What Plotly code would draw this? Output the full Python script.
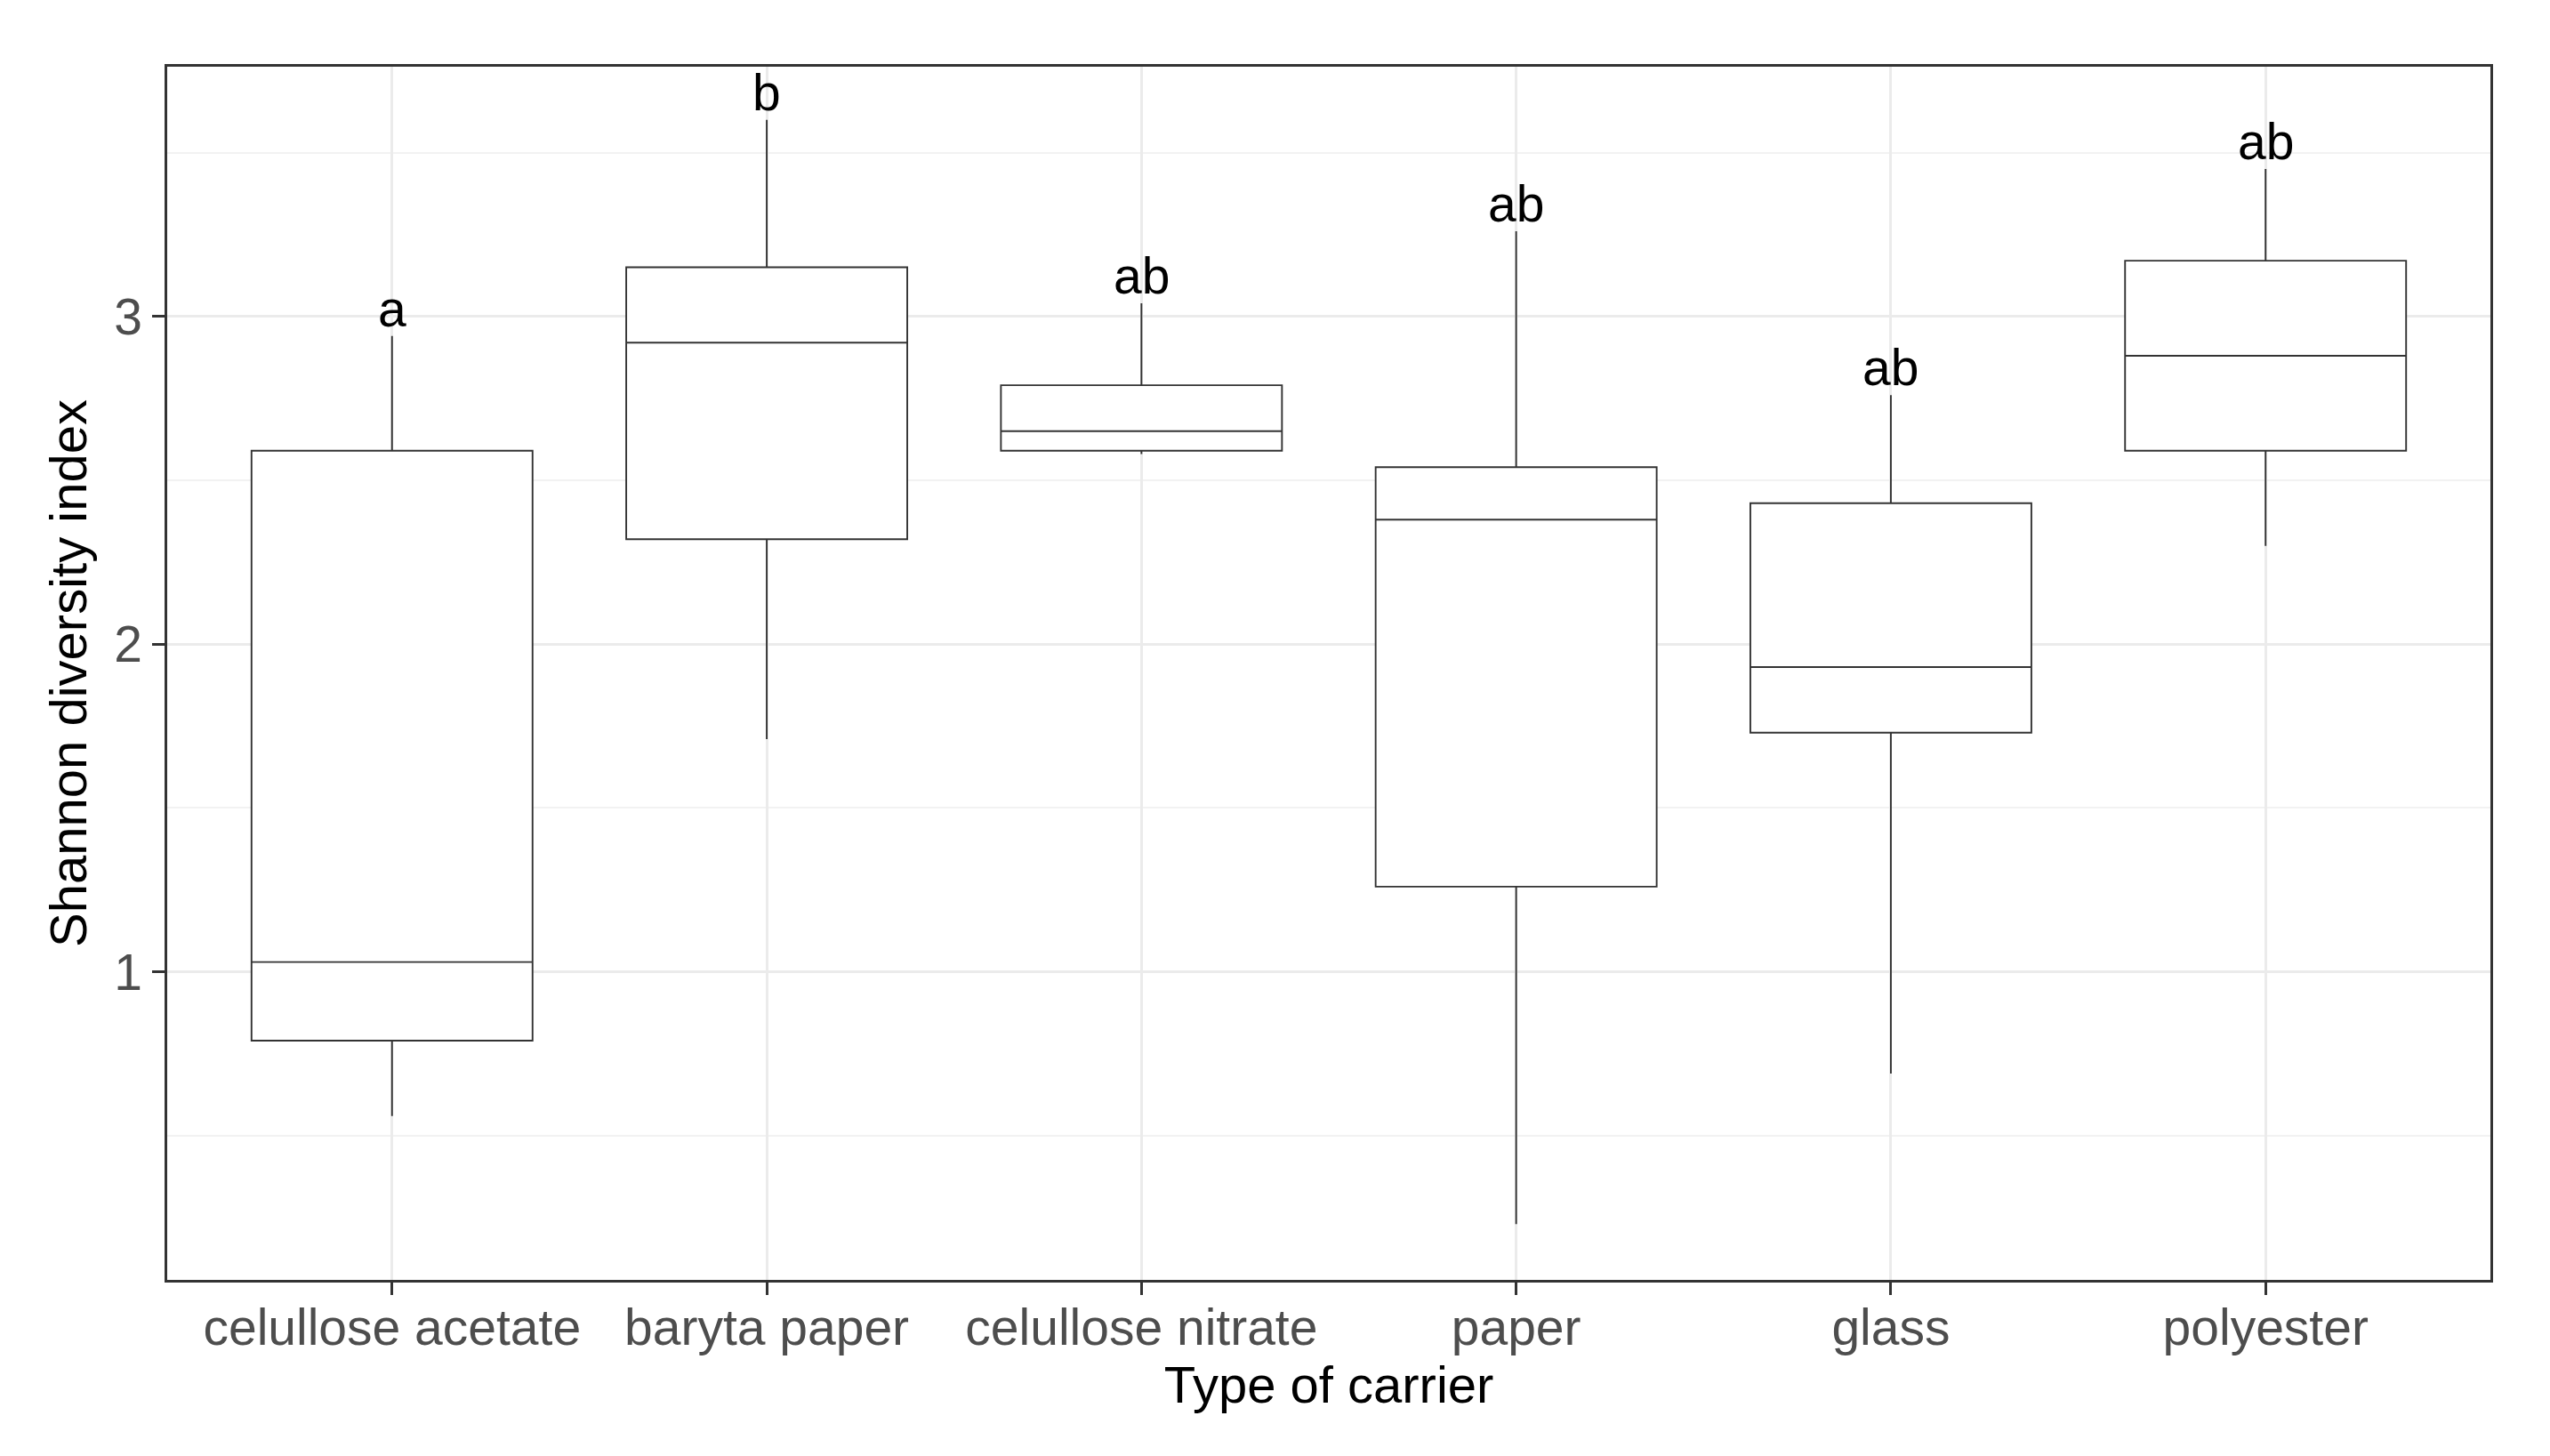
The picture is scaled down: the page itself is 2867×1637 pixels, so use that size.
import plotly.graph_objects as go

# ---- data ----
categories = ["celullose acetate", "baryta paper", "celullose nitrate", "paper", "glass", "polyester"]
lower_whisker = [0.56, 1.71, 2.58, 0.23, 0.69, 2.30]
q1_values = [0.79, 2.32, 2.59, 1.26, 1.73, 2.59]
median_values = [1.03, 2.92, 2.65, 2.38, 1.93, 2.88]
q3_values = [2.59, 3.15, 2.79, 2.54, 2.43, 3.17]
upper_whisker = [2.94, 3.60, 3.04, 3.26, 2.76, 3.45]
letters = ["a", "b", "ab", "ab", "ab", "ab"]
y_ticks = [1, 2, 3]

FONT = "Liberation Sans, Arial, sans-serif"

fig = go.Figure()
fig.add_trace(go.Box(
    x=categories,
    q1=q1_values,
    median=median_values,
    q3=q3_values,
    lowerfence=lower_whisker,
    upperfence=upper_whisker,
    width=0.75,
    whiskerwidth=0,
    boxpoints=False,
    fillcolor="white",
    line=dict(color="#333333", width=1.9),
    showlegend=False,
    hoverinfo="skip",
))

for cat, lab, top in zip(categories, letters, upper_whisker):
    fig.add_annotation(
        x=cat, y=top, text=lab, showarrow=False,
        xanchor="center", yanchor="bottom", yshift=-3,
        font=dict(family=FONT, size=57, color="black"),
    )

# page body has an 8px default margin, so the figure is sized to fit the window
fig.update_layout(
    width=2859, height=1629, autosize=False,
    margin=dict(l=180, r=67, t=67, b=198),
    paper_bgcolor="white", plot_bgcolor="white",
    font=dict(family=FONT, size=57, color="#4D4D4D"),
)

fig.update_xaxes(
    type="category",
    categoryorder="array", categoryarray=categories,
    range=[-0.6, 5.6],
    showgrid=True, gridcolor="#EBEBEB", gridwidth=3,
    showline=True, mirror=True, linecolor="#333333", linewidth=2.5,
    ticks="outside", ticklen=14, tickwidth=2.5, tickcolor="#333333",
    ticklabelstandoff=-12,
    tickfont=dict(family=FONT, size=57, color="#4D4D4D"),
    title=dict(text="Type of carrier", font=dict(family=FONT, size=58, color="black"), standoff=8),
    zeroline=False,
)

fig.update_yaxes(
    range=[0.06, 3.762],
    tickvals=y_ticks, ticktext=[str(v) for v in y_ticks],
    showgrid=True, gridcolor="#EBEBEB", gridwidth=3,
    minor=dict(tick0=0.5, dtick=1, showgrid=True, gridcolor="#F2F2F2", gridwidth=1.5, ticklen=0),
    showline=True, mirror=True, linecolor="#333333", linewidth=2.5,
    ticks="outside", ticklen=14, tickwidth=2.5, tickcolor="#333333",
    tickfont=dict(family=FONT, size=57, color="#4D4D4D"),
    title=dict(text="Shannon diversity index", font=dict(family=FONT, size=58, color="black"), standoff=12),
    zeroline=False,
)

fig.write_html("out.html")
